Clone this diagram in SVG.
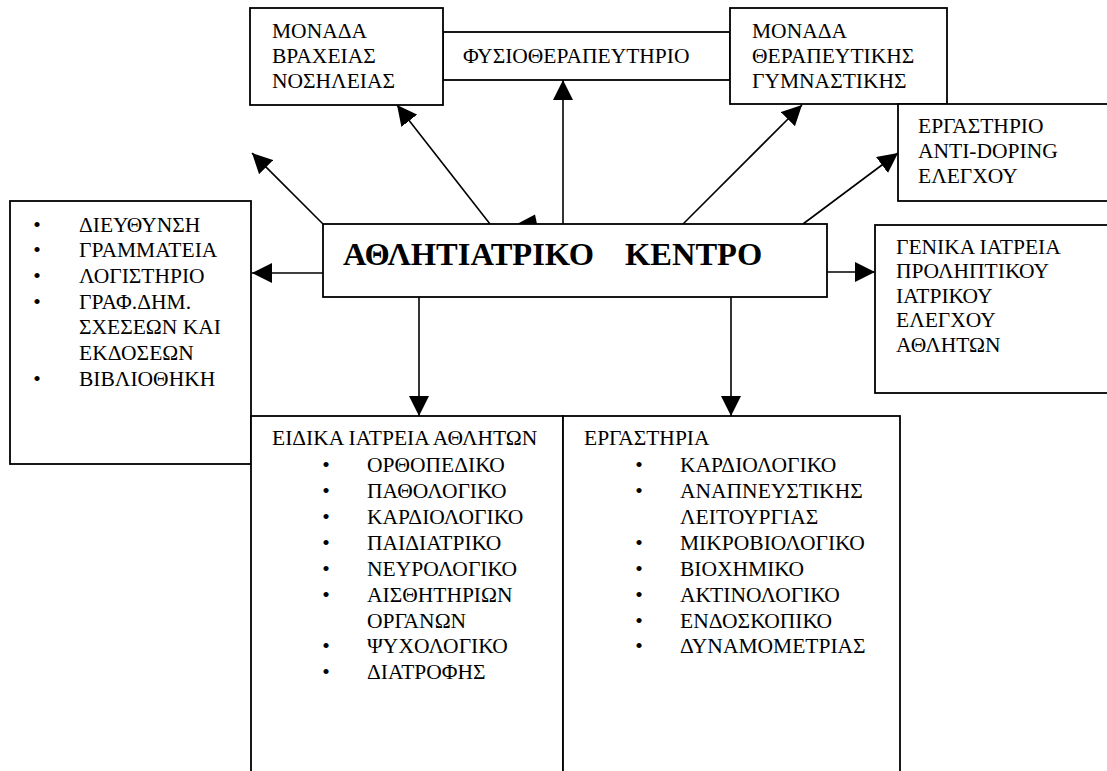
<svg xmlns="http://www.w3.org/2000/svg" width="1107" height="771" viewBox="0 0 1107 771">
<style>
.box{fill:#fff;stroke:#000;stroke-width:1.8}
.ln{fill:none;stroke:#000;stroke-width:1.6}
.t{font-family:"Liberation Serif","Times New Roman",serif;font-size:21.5px;fill:#000}
.b{text-anchor:middle}
.title{font-family:"Liberation Serif","Times New Roman",serif;font-size:32.5px;font-weight:bold;fill:#000}
</style>
<defs>
<marker id="ah" markerUnits="userSpaceOnUse" markerWidth="20" markerHeight="20" refX="20" refY="10" orient="auto" viewBox="0 0 20 20">
<path d="M0,0 L20,10 L0,20 z" fill="#000"/>
</marker>
</defs>
<rect width="1107" height="771" fill="#fff"/>
<g id="connectors">
<line class="ln" x1="323" y1="273" x2="252" y2="273" marker-end="url(#ah)"/>
<line class="ln" x1="323" y1="224" x2="252" y2="153" marker-end="url(#ah)"/>
<line class="ln" x1="490" y1="224" x2="397" y2="105" marker-end="url(#ah)"/>
<line class="ln" x1="563" y1="224" x2="563" y2="80" marker-end="url(#ah)"/>
<line class="ln" x1="683" y1="224" x2="802" y2="105" marker-end="url(#ah)"/>
<line class="ln" x1="803" y1="224" x2="898" y2="153" marker-end="url(#ah)"/>
<line class="ln" x1="827" y1="272" x2="875" y2="272" marker-end="url(#ah)"/>
<line class="ln" x1="419" y1="297" x2="419" y2="416" marker-end="url(#ah)"/>
<line class="ln" x1="731" y1="297" x2="731" y2="416" marker-end="url(#ah)"/>
<polygon points="517,224 535,214.5 537,224" fill="#000"/>
</g>
<g id="fysio">
<rect class="box" x="443" y="32" width="287" height="48"/>
<text class="t" x="463" y="63">ΦΥΣΙΟΘΕΡΑΠΕΥΤΗΡΙΟ</text>
</g>
<g id="monada-vraxeias">
<rect class="box" x="250" y="8" width="193" height="97"/>
<text class="t" x="272" y="38">ΜΟΝΑΔΑ</text>
<text class="t" x="272" y="63">ΒΡΑΧΕΙΑΣ</text>
<text class="t" x="272" y="88">ΝΟΣΗΛΕΙΑΣ</text>
</g>
<g id="monada-therapeutikis">
<rect class="box" x="730" y="8" width="217" height="96"/>
<text class="t" x="752" y="38">ΜΟΝΑΔΑ</text>
<text class="t" x="752" y="63">ΘΕΡΑΠΕΥΤΙΚΗΣ</text>
<text class="t" x="752" y="88">ΓΥΜΝΑΣΤΙΚΗΣ</text>
</g>
<g id="anti-doping">
<rect class="box" x="898" y="104" width="230" height="97"/>
<text class="t" x="918" y="133">ΕΡΓΑΣΤΗΡΙΟ</text>
<text class="t" x="918" y="158">ANTI-DOPING</text>
<text class="t" x="918" y="183">ΕΛΕΓΧΟΥ</text>
</g>
<g id="kentro">
<rect class="box" x="323" y="224" width="504" height="73"/>
<text class="title" y="265"><tspan x="343">ΑΘΛΗΤΙΑΤΡΙΚΟ</tspan><tspan x="625">ΚΕΝΤΡΟ</tspan></text>
</g>
<g id="genika-iatreia">
<rect class="box" x="875" y="225" width="250" height="168"/>
<text class="t" x="896" y="254">ΓΕΝΙΚΑ ΙΑΤΡΕΙΑ</text>
<text class="t" x="896" y="278">ΠΡΟΛΗΠΤΙΚΟΥ</text>
<text class="t" x="896" y="303">ΙΑΤΡΙΚΟΥ</text>
<text class="t" x="896" y="327">ΕΛΕΓΧΟΥ</text>
<text class="t" x="896" y="352">ΑΘΛΗΤΩΝ</text>
</g>
<g id="dioikisi">
<rect class="box" x="10" y="201" width="241" height="263"/>
<text class="t b" x="37" y="232">•</text><text class="t" x="79" y="232">ΔΙΕΥΘΥΝΣΗ</text>
<text class="t b" x="37" y="257">•</text><text class="t" x="79" y="257">ΓΡΑΜΜΑΤΕΙΑ</text>
<text class="t b" x="37" y="283">•</text><text class="t" x="79" y="283">ΛΟΓΙΣΤΗΡΙΟ</text>
<text class="t b" x="37" y="309">•</text><text class="t" x="79" y="309">ΓΡΑΦ.ΔΗΜ.</text>
<text class="t" x="79" y="334">ΣΧΕΣΕΩΝ ΚΑΙ</text>
<text class="t" x="79" y="360">ΕΚΔΟΣΕΩΝ</text>
<text class="t b" x="37" y="386">•</text><text class="t" x="79" y="386">ΒΙΒΛΙΟΘΗΚΗ</text>
</g>
<g id="eidika-iatreia">
<rect class="box" x="251" y="416" width="312" height="400"/>
<text class="t" x="272" y="445">ΕΙΔΙΚΑ ΙΑΤΡΕΙΑ ΑΘΛΗΤΩΝ</text>
<text class="t b" x="326" y="472">•</text><text class="t" x="367" y="472">ΟΡΘΟΠΕΔΙΚΟ</text>
<text class="t b" x="326" y="498">•</text><text class="t" x="367" y="498">ΠΑΘΟΛΟΓΙΚΟ</text>
<text class="t b" x="326" y="524">•</text><text class="t" x="367" y="524">ΚΑΡΔΙΟΛΟΓΙΚΟ</text>
<text class="t b" x="326" y="550">•</text><text class="t" x="367" y="550">ΠΑΙΔΙΑΤΡΙΚΟ</text>
<text class="t b" x="326" y="576">•</text><text class="t" x="367" y="576">ΝΕΥΡΟΛΟΓΙΚΟ</text>
<text class="t b" x="326" y="602">•</text><text class="t" x="367" y="602">ΑΙΣΘΗΤΗΡΙΩΝ</text>
<text class="t" x="367" y="628">ΟΡΓΑΝΩΝ</text>
<text class="t b" x="326" y="653">•</text><text class="t" x="367" y="653">ΨΥΧΟΛΟΓΙΚΟ</text>
<text class="t b" x="326" y="679">•</text><text class="t" x="367" y="679">ΔΙΑΤΡΟΦΗΣ</text>
</g>
<g id="ergastiria">
<rect class="box" x="563" y="416" width="337" height="400"/>
<text class="t" x="584" y="445">ΕΡΓΑΣΤΗΡΙΑ</text>
<text class="t b" x="639" y="472">•</text><text class="t" x="680" y="472">ΚΑΡΔΙΟΛΟΓΙΚΟ</text>
<text class="t b" x="639" y="498">•</text><text class="t" x="680" y="498">ΑΝΑΠΝΕΥΣΤΙΚΗΣ</text>
<text class="t" x="680" y="524">ΛΕΙΤΟΥΡΓΙΑΣ</text>
<text class="t b" x="639" y="550">•</text><text class="t" x="680" y="550">ΜΙΚΡΟΒΙΟΛΟΓΙΚΟ</text>
<text class="t b" x="639" y="576">•</text><text class="t" x="680" y="576">ΒΙΟΧΗΜΙΚΟ</text>
<text class="t b" x="639" y="602">•</text><text class="t" x="680" y="602">ΑΚΤΙΝΟΛΟΓΙΚΟ</text>
<text class="t b" x="639" y="628">•</text><text class="t" x="680" y="628">ΕΝΔΟΣΚΟΠΙΚΟ</text>
<text class="t b" x="639" y="653">•</text><text class="t" x="680" y="653">ΔΥΝΑΜΟΜΕΤΡΙΑΣ</text>
</g>
</svg>
